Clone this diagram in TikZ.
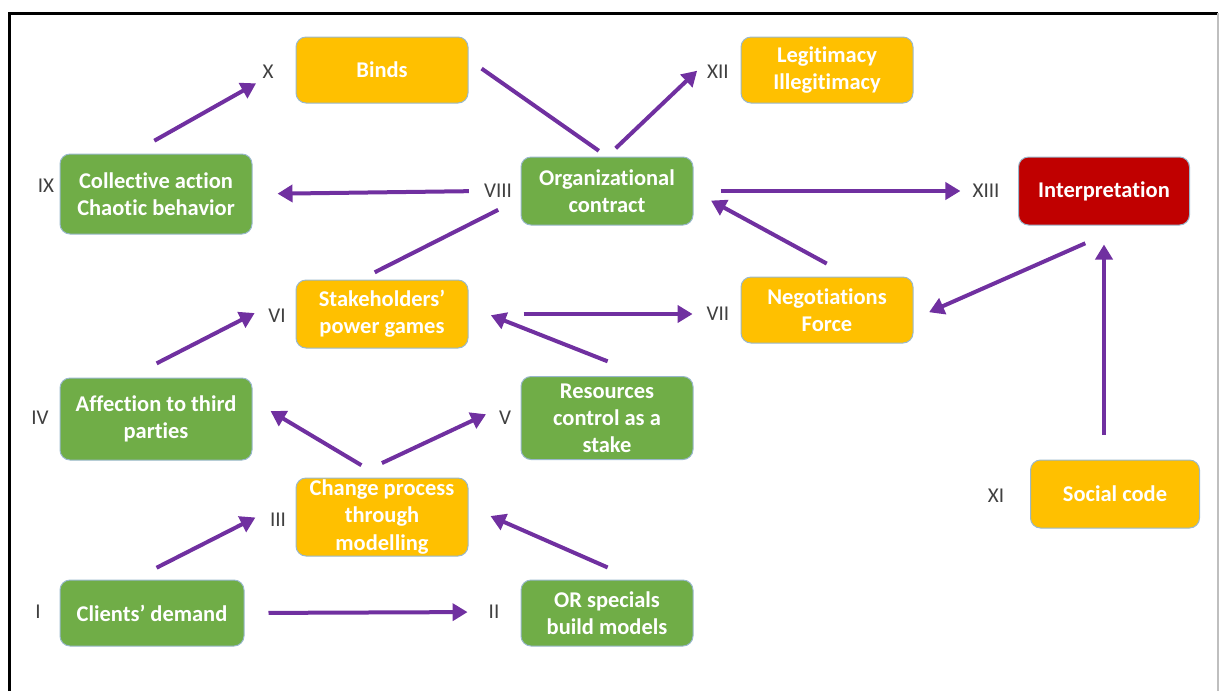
\documentclass[tikz,border=0pt]{standalone}
\usepackage{fontspec}
\setmainfont[RawFeature=-liga]{Carlito}
\usetikzlibrary{arrows.meta}
\newlength{\du}
\setlength{\du}{0.02cm}
\definecolor{diagreen}{rgb}{0.439216, 0.678431, 0.278431}
\definecolor{diagold}{rgb}{1.000000, 0.752941, 0.000000}
\definecolor{diared}{rgb}{0.752941, 0.000000, 0.000000}
\definecolor{diapurple}{rgb}{0.439216, 0.188235, 0.627451}
\definecolor{diaedge}{rgb}{0.600000, 0.720000, 0.800000}
\definecolor{dialabel}{rgb}{0.250000, 0.250000, 0.250000}
\tikzset{
  box/.style={rounded corners=10\du, draw=diaedge, line width=1\du, text=white,
    align=center, inner sep=0pt, font=\fontsize{12.8}{15.4}\selectfont\bfseries},
  greenbox/.style={box, fill=diagreen},
  goldbox/.style={box, fill=diagold},
  redbox/.style={box, fill=diared},
  numlabel/.style={inner sep=1pt, text=dialabel, font=\fontsize{12}{14}\selectfont},
  conn/.style={draw=diapurple, line width=4\du},
  arr/.style={conn, -{Triangle[length=0.30cm,width=0.34cm]}},
}
\begin{document}
\begin{tikzpicture}
\pgftransformyscale{-1.000000}
\useasboundingbox (0\du,0\du) rectangle (1221\du,691\du);
% frame
\draw[line width=3\du] (9\du,691\du)--(9\du,13\du)--(1218\du,13\du);
\draw[line width=2\du, color=black!25] (1218\du,13\du)--(1218\du,691\du);
% boxes
\node[goldbox, minimum width=172\du, minimum height=66\du] (binds) at (382\du,70\du) {Binds};
\node[goldbox, minimum width=172\du, minimum height=66\du] (legit) at (827\du,70\du) {Legitimacy\\Illegitimacy};
\node[greenbox, minimum width=192\du, minimum height=80\du] (collect) at (156\du,194\du) {Collective action\\Chaotic behavior};
\node[greenbox, minimum width=172\du, minimum height=68\du] (contract) at (607\du,191\du) {Organizational\\contract};
\node[redbox, minimum width=171\du, minimum height=68\du] (interp) at (1104\du,191\du) {Interpretation};
\node[goldbox, minimum width=172\du, minimum height=68\du] (stake) at (382\du,314\du) {Stakeholders’\\power games};
\node[goldbox, minimum width=172\du, minimum height=66\du] (negot) at (827\du,310\du) {Negotiations\\Force};
\node[greenbox, minimum width=192\du, minimum height=82\du] (affect) at (156\du,419\du) {Affection to third\\parties};
\node[greenbox, minimum width=172\du, minimum height=83\du] (resour) at (607\du,418\du) {Resources\\control as a\\stake};
\node[goldbox, minimum width=172\du, minimum height=78\du] (change) at (382\du,517\du) {Change process\\through\\modelling};
\node[goldbox, minimum width=169\du, minimum height=68\du] (social) at (1115\du,494\du) {Social code};
\node[greenbox, minimum width=184\du, minimum height=66\du] (client) at (152\du,613\du) {Clients’ demand};
\node[greenbox, minimum width=172\du, minimum height=66\du] (orspec) at (607\du,613\du) {OR specials\\build models};
% roman numbers
\node[numlabel] (lI) at (38\du,612\du) {I};
\node[numlabel] (lII) at (494\du,612\du) {II};
\node[numlabel] (lIII) at (278\du,520\du) {III};
\node[numlabel] (lIV) at (40\du,418\du) {IV};
\node[numlabel] (lV) at (505\du,418\du) {V};
\node[numlabel] (lVI) at (277\du,316\du) {VI};
\node[numlabel] (lVII) at (718\du,314\du) {VII};
\node[numlabel] (lVIII) at (498\du,191\du) {VIII};
\node[numlabel] (lIX) at (46\du,186\du) {IX};
\node[numlabel] (lX) at (268\du,72\du) {X};
\node[numlabel] (lXI) at (996\du,496\du) {XI};
\node[numlabel] (lXII) at (718\du,72\du) {XII};
\node[numlabel] (lXIII) at (986\du,191\du) {XIII};
% connectors
\draw[arr, shorten <=24\du, shorten >=19\du] (client.east) -- (lII.west);
\draw[arr, shorten <=26\du, shorten >=14\du] (client.119) -- (lIII.north west);
\draw[arr, shorten <=30\du, shorten >=24\du] (orspec.50) -- (change.7);
\draw[arr, shorten <=24\du, shorten >=21\du] (change.north) -- (affect.11);
\draw[arr, shorten <=34\du, shorten >=12\du] (change.128) -- (lV.north west);
\draw[arr, shorten <=31\du, shorten >=13\du] (affect.123) -- (lVI.north west);
\draw[arr, shorten <=40\du, shorten >=24\du] (resour.48) -- (stake.5);
\draw[arr, shorten <=55\du, shorten >=12\du] (stake.east) -- (lVII.west);
\draw[conn, shorten <=25\du, shorten >=16\du] (contract.185) -- (stake.122);
\draw[arr, shorten <=13\du, shorten >=25\du] (lVIII.west) -- (collect.east);
\draw[arr, shorten <=26\du, shorten >=5\du] (collect.121) -- (lX.south west);
\draw[conn, shorten <=16\du, shorten >=10\du] (binds.7) -- (contract.north);
\draw[arr, shorten <=12\du, shorten >=11\du] (contract.north) -- (lXII.north west);
\draw[arr, shorten <=27\du, shorten >=10\du] (contract.east) -- (lXIII.west);
\draw[arr, shorten <=27\du, shorten >=20\du] (negot.55) -- (contract.east);
\draw[arr, shorten <=44\du, shorten >=17\du] (interp.-58) -- (negot.-6);
\draw[arr, shorten <=25\du, shorten >=19\du] (social.north -| interp.south) -- (interp.south);
\end{tikzpicture}
\end{document}
